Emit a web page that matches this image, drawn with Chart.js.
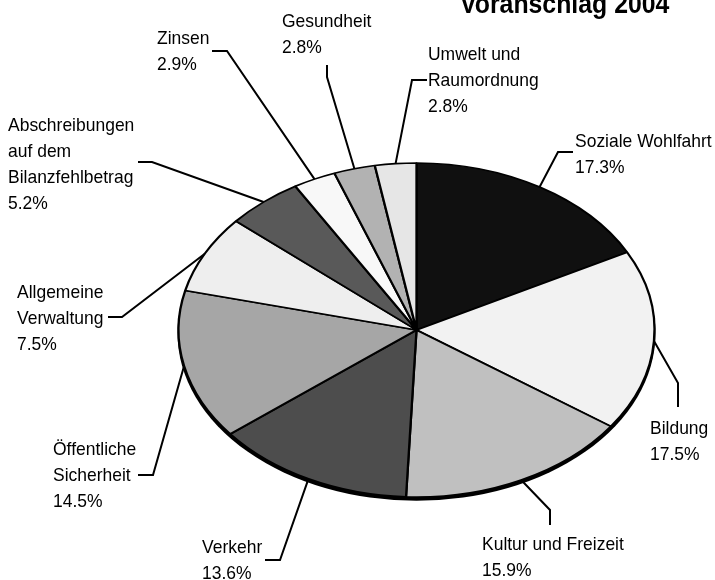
<!DOCTYPE html>
<html><head><meta charset="utf-8">
<script src="https://cdn.jsdelivr.net/npm/chart.js@4.4.0/dist/chart.umd.min.js"></script>
<style>html,body{margin:0;padding:0;background:#fff;}canvas{display:block;}</style>
</head><body>
<canvas id="c" width="715" height="580" style="width:715px;height:580px"></canvas>
<script>
// ---- data ----
const categories = [
  ["Soziale Wohlfahrt"],
  ["Bildung"],
  ["Kultur und Freizeit"],
  ["Verkehr"],
  ["Öffentliche", "Sicherheit"],
  ["Allgemeine", "Verwaltung"],
  ["Abschreibungen", "auf dem", "Bilanzfehlbetrag"],
  ["Zinsen"],
  ["Gesundheit"],
  ["Umwelt und", "Raumordnung"]
];
const values = [17.3, 17.5, 15.9, 13.6, 14.5, 7.5, 5.2, 2.9, 2.8, 2.8];
const sliceColors = ["#101010", "#f2f2f2", "#c0c0c0", "#4d4d4d", "#a6a6a6",
                     "#eeeeee", "#595959", "#f8f8f8", "#b2b2b2", "#e6e6e6"];
const titleText = "Voranschlag 2004";

// ---- label layout (text anchor, elbow and end of leader line) ----
const labelLayout = [
  {tx: 575, ty: 147, elbow: [558, 152], end: [573, 152]},
  {tx: 650, ty: 434, elbow: [678, 383], end: [678, 407]},
  {tx: 482, ty: 550, elbow: [550, 510], end: [550, 525]},
  {tx: 202, ty: 553, elbow: [280, 560], end: [265, 560]},
  {tx: 53,  ty: 455, elbow: [153, 475], end: [138, 475]},
  {tx: 17,  ty: 298, elbow: [122, 317], end: [108, 317]},
  {tx: 8,   ty: 131, elbow: [152, 162], end: [138, 162]},
  {tx: 157, ty: 44,  elbow: [227, 51],  end: [212, 51]},
  {tx: 282, ty: 27,  elbow: [327, 77],  end: [327, 65]},
  {tx: 428, ty: 60,  elbow: [412, 80],  end: [427, 80]}
];

const SQUASH = 167 / 238;
const RIM = 3;
const TEXT_SX = 0.92;
const LINE_H = 26;

function drawText(ctx, str, x, y, font) {
  ctx.save();
  ctx.translate(x, y);
  ctx.scale(TEXT_SX, 1);
  ctx.font = font;
  ctx.fillStyle = '#000';
  ctx.textBaseline = 'alphabetic';
  ctx.textAlign = 'left';
  ctx.fillText(str, 0, 0);
  ctx.restore();
}

const ellipsePlugin = {
  id: 'ellipsePie',
  beforeDatasetsDraw(chart) {
    const arc = chart.getDatasetMeta(0).data[0];
    const {x, y, outerRadius} = arc.getProps(['x', 'y', 'outerRadius'], true);
    const ctx = chart.ctx;
    // 3D rim
    ctx.save();
    ctx.translate(x, y + RIM);
    ctx.scale(1, SQUASH);
    ctx.beginPath();
    ctx.arc(0, 0, outerRadius + 1, 0, Math.PI * 2);
    ctx.fillStyle = '#000';
    ctx.fill();
    ctx.restore();
    // squash the pie into an ellipse
    ctx.save();
    ctx.translate(x, y);
    ctx.scale(1, SQUASH);
    ctx.translate(-x, -y);
  },
  afterDatasetsDraw(chart) {
    const ctx = chart.ctx;
    ctx.restore();
    const meta = chart.getDatasetMeta(0);
    meta.data.forEach((arc, i) => {
      const p = arc.getProps(['x', 'y', 'startAngle', 'endAngle', 'outerRadius'], true);
      const mid = (p.startAngle + p.endAngle) / 2;
      const sx = p.x + p.outerRadius * Math.cos(mid);
      const sy = p.y + p.outerRadius * SQUASH * Math.sin(mid);
      const L = labelLayout[i];
      ctx.save();
      ctx.strokeStyle = '#000';
      ctx.lineWidth = 2;
      ctx.beginPath();
      ctx.moveTo(sx, sy);
      ctx.lineTo(L.elbow[0], L.elbow[1]);
      ctx.lineTo(L.end[0], L.end[1]);
      ctx.stroke();
      ctx.restore();
      const lines = categories[i].concat([values[i].toFixed(1) + '%']);
      lines.forEach((t, j) => drawText(ctx, t, L.tx, L.ty + j * LINE_H, '19px "Liberation Sans", Arial, sans-serif'));
    });
    drawText(ctx, titleText, 460, 13, 'bold 27px "Liberation Sans", Arial, sans-serif');
  }
};

new Chart(document.getElementById('c'), {
  type: 'pie',
  data: {
    labels: categories.map(c => c.join(' ')),
    datasets: [{
      data: values,
      backgroundColor: sliceColors,
      borderColor: '#000',
      borderWidth: 2.3,
      radius: 238,
      clip: false
    }]
  },
  options: {
    responsive: false,
    devicePixelRatio: 1,
    animation: false,
    layout: {padding: {left: 118, right: 0, top: 80, bottom: 0}},
    plugins: {legend: {display: false}, tooltip: {enabled: false}, title: {display: false}}
  },
  plugins: [ellipsePlugin]
});
</script>
</body></html>
